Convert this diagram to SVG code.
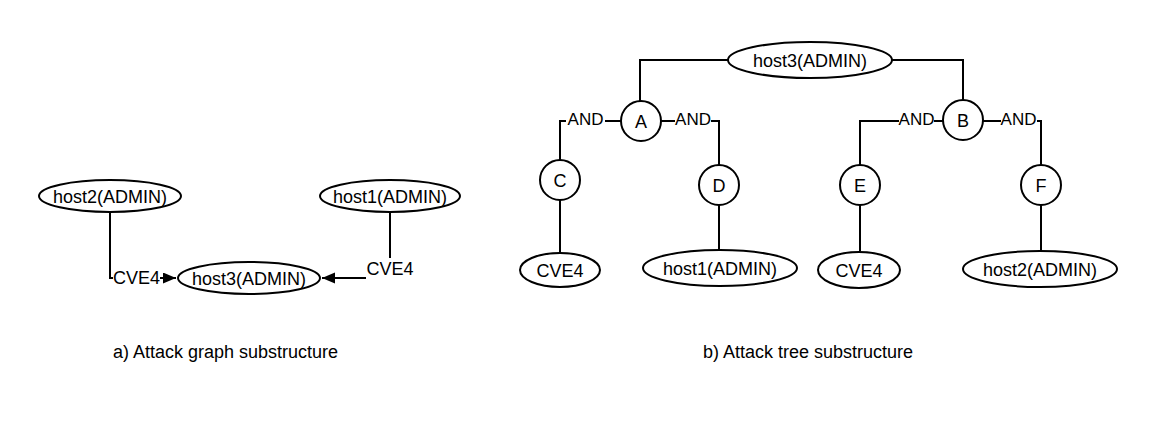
<svg xmlns="http://www.w3.org/2000/svg" width="1155" height="425" viewBox="0 0 1155 425">
<style>
.n{fill:#fff;stroke:#000;stroke-width:2}
.t{font-family:"Liberation Sans",Arial,sans-serif;font-size:18px;fill:#000;text-anchor:middle}
.and{font-family:"Liberation Sans",Arial,sans-serif;font-size:17px;fill:#000;text-anchor:middle}
.e{fill:none;stroke:#000;stroke-width:2}
.lb{fill:#fff;stroke:none}
.cap{font-family:"Liberation Sans",Arial,sans-serif;font-size:18px;fill:#000}
</style>
<defs>
<marker id="arr" markerUnits="userSpaceOnUse" markerWidth="14" markerHeight="12" refX="13" refY="5.5" orient="auto">
<path d="M0,0 L13,5.5 L0,11 z" fill="#000"/>
</marker>
</defs>
<rect width="1155" height="425" fill="#fff"/>
<g id="connectors">
<path class="e" d="M110,212 V278 H176" marker-end="url(#arr)"/>
<rect class="lb" x="113" y="266" width="47" height="22"/>
<text class="t" x="136.5" y="284">CVE4</text>
<path class="e" d="M390,212 V278 H322" marker-end="url(#arr)"/>
<rect class="lb" x="366" y="258" width="48" height="23"/>
<text class="t" x="390" y="275">CVE4</text>
<path class="e" d="M728,60 H640 V101"/>
<path class="e" d="M892,60 H963 V100"/>
<path class="e" d="M621,121 H560 V160"/>
<rect class="lb" x="566" y="110" width="39" height="19"/>
<text class="and" x="585.5" y="125">AND</text>
<path class="e" d="M661,121 H719 V165"/>
<rect class="lb" x="675" y="110" width="36" height="19"/>
<text class="and" x="693" y="125">AND</text>
<path class="e" d="M943,121 H860 V165"/>
<rect class="lb" x="899" y="110" width="35" height="19"/>
<text class="and" x="916.5" y="125">AND</text>
<path class="e" d="M983,121 H1041 V165"/>
<rect class="lb" x="1001" y="110" width="36" height="19"/>
<text class="and" x="1018.5" y="125">AND</text>
<path class="e" d="M560,200 V252"/>
<path class="e" d="M719,205 V250"/>
<path class="e" d="M860,205 V251"/>
<path class="e" d="M1041,205 V251"/>
</g>
<g id="a-host2">
<ellipse class="n" cx="110" cy="196" rx="71" ry="16"/>
<text class="t" x="110" y="202.5">host2(ADMIN)</text>
</g>
<g id="a-host1">
<ellipse class="n" cx="390" cy="196" rx="70" ry="16"/>
<text class="t" x="390" y="202.5">host1(ADMIN)</text>
</g>
<g id="a-host3">
<ellipse class="n" cx="249" cy="278" rx="71" ry="16"/>
<text class="t" x="249" y="284.5">host3(ADMIN)</text>
</g>
<g id="b-host3">
<ellipse class="n" cx="810" cy="60" rx="82" ry="18"/>
<text class="t" x="810" y="66.5">host3(ADMIN)</text>
</g>
<g id="b-A">
<circle class="n" cx="641" cy="121" r="20"/>
<text class="t" x="641" y="127.5">A</text>
</g>
<g id="b-B">
<circle class="n" cx="963" cy="120" r="20"/>
<text class="t" x="963" y="126.5">B</text>
</g>
<g id="b-C">
<circle class="n" cx="560" cy="180" r="20"/>
<text class="t" x="560" y="186.5">C</text>
</g>
<g id="b-D">
<circle class="n" cx="719" cy="185" r="20"/>
<text class="t" x="719" y="191.5">D</text>
</g>
<g id="b-E">
<circle class="n" cx="860" cy="185" r="20"/>
<text class="t" x="860" y="191.5">E</text>
</g>
<g id="b-F">
<circle class="n" cx="1041" cy="185" r="20"/>
<text class="t" x="1041" y="191.5">F</text>
</g>
<g id="b-cve4-1">
<ellipse class="n" cx="560" cy="270" rx="40" ry="17"/>
<text class="t" x="560" y="276.5">CVE4</text>
</g>
<g id="b-host1">
<ellipse class="n" cx="720" cy="268" rx="77" ry="18"/>
<text class="t" x="720" y="274.5">host1(ADMIN)</text>
</g>
<g id="b-cve4-2">
<ellipse class="n" cx="859" cy="270" rx="41" ry="18"/>
<text class="t" x="859" y="276.5">CVE4</text>
</g>
<g id="b-host2">
<ellipse class="n" cx="1040" cy="269" rx="77" ry="18"/>
<text class="t" x="1040" y="275.5">host2(ADMIN)</text>
</g>
<text class="cap" x="113" y="358">a) Attack graph substructure</text>
<text class="cap" x="703" y="358">b) Attack tree substructure</text>
</svg>
